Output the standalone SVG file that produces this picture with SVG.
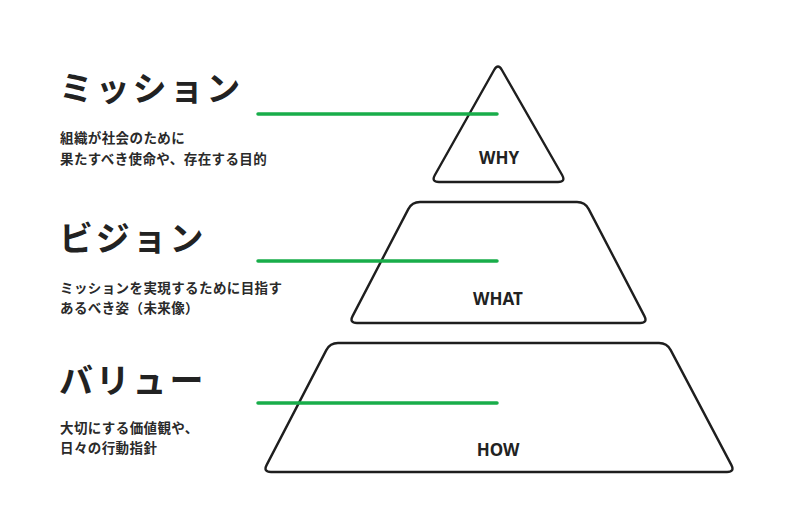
<svg xmlns="http://www.w3.org/2000/svg" width="800" height="527" viewBox="0 0 800 527">
<style>
.shape{fill:#fff;stroke:#1e1e1e;stroke-width:2.4;stroke-linejoin:round}
.title{font-family:"Noto Sans CJK JP","Noto Sans",sans-serif;font-weight:700;font-size:34px;letter-spacing:2.8px;fill:#222}
.desc{font-family:"Noto Sans CJK JP","Noto Sans",sans-serif;font-weight:700;font-size:13.5px;letter-spacing:0.4px;fill:#2a2a2a}
.lbl{font-family:"Noto Sans","Open Sans",sans-serif;font-weight:700;font-size:17px;fill:#222;text-anchor:middle}
.link{stroke:#18ad4a;stroke-width:3.5;stroke-linecap:round;fill:none}
</style>
<rect width="800" height="527" fill="#fff"/>
<g id="why">
<path class="shape" d="M494.1,70 Q498,63 501.9,70 L562.1,175 Q566,182 558,182 L439,182 Q431,182 434.9,175 Z"/>
<text class="lbl" x="499" y="164">WHY</text>
</g>
<g id="what">
<path class="shape" d="M420,202 L577,202 Q585,202 588.7,209.1 L644.3,315.9 Q648,323 640,323 L357,323 Q349,323 352.7,315.9 L408.3,209.1 Q412,202 420,202 Z"/>
<text class="lbl" x="498" y="305">WHAT</text>
</g>
<g id="how">
<path class="shape" d="M338,343 L659,343 Q667,343 670.7,350.1 L731.3,464.9 Q735,472 727,472 L271,472 Q263,472 266.7,464.9 L326.3,350.1 Q330,343 338,343 Z"/>
<text class="lbl" x="498" y="456">HOW</text>
</g>
<g id="mission">
<text class="title" x="59" y="101">ミッション</text>
<text class="desc" x="60" y="143">組織が社会のために</text>
<text class="desc" x="60" y="164">果たすべき使命や、存在する目的</text>
</g>
<g id="vision">
<text class="title" x="59" y="251">ビジョン</text>
<text class="desc" x="60" y="293">ミッションを実現するために目指す</text>
<text class="desc" x="60" y="313">あるべき姿（未来像）</text>
</g>
<g id="value">
<text class="title" x="59" y="393">バリュー</text>
<text class="desc" x="60" y="433">大切にする価値観や、</text>
<text class="desc" x="60" y="453">日々の行動指針</text>
</g>
<g id="connectors">
<line class="link" x1="258" y1="114" x2="497" y2="114"/>
<line class="link" x1="258" y1="261" x2="497" y2="261"/>
<line class="link" x1="258" y1="403" x2="497" y2="403"/>
</g>
</svg>
